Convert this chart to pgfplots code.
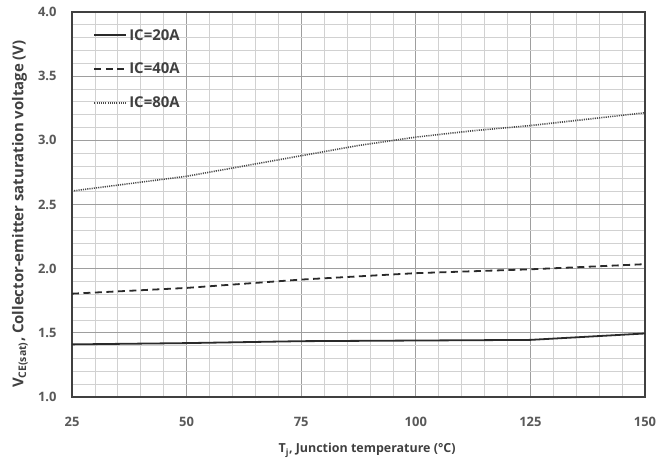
\documentclass[border=0pt]{standalone}
\usepackage{fontspec}
\setmainfont{Open Sans}
\usepackage{pgfplots}
\pgfplotsset{compat=1.18}
\definecolor{txt}{HTML}{595959}
\definecolor{lab}{HTML}{404040}
\definecolor{ln}{HTML}{2a2a2a}
\begin{document}
\begin{tikzpicture}
\useasboundingbox (0,0) rectangle (667bp,459bp);
\begin{axis}[
  at={(72bp,62bp)}, anchor=south west,
  scale only axis, width=573bp, height=385bp,
  xmin=25, xmax=150, ymin=1, ymax=4,
  xtick={25,50,...,150}, ytick={1,1.5,...,4},
  minor x tick num=4, minor y tick num=4,
  grid=both,
  major grid style={draw=black!38, line width=0.8bp},
  minor grid style={draw=black!18, line width=0.7bp},
  tick style={draw=none},
  axis line style={draw=lab, line width=1.4bp},
  /pgf/number format/assume math mode=true,
  yticklabel style={/pgf/number format/fixed, /pgf/number format/fixed zerofill, /pgf/number format/precision=1},
  ticklabel style={font=\fontsize{13}{15}\selectfont\bfseries, text=txt},
  xticklabel style={yshift=-17bp},
  yticklabel style={xshift=-12bp},
  xlabel={T\textsubscript{j}, Junction temperature (°C)},
  ylabel={V\textsubscript{CE(sat)}, Collector-emitter saturation voltage (V)},
  xlabel style={font=\fontsize{12.5}{15}\selectfont\bfseries, text=lab,
    at={(axis description cs:0.515,-0.138)}, anchor=center},
  ylabel style={font=\fontsize{15}{17}\selectfont\bfseries, text=lab,
    at={(axis description cs:-0.091,0.475)}, anchor=center, rotate=0},
  legend style={draw=none, fill=none, at={(0.037,0.966)}, anchor=north west,
    font=\fontsize{15}{17}\selectfont\bfseries, text=lab,
    row sep=17.5bp, inner xsep=0pt},
  legend cell align=left,
  legend image code/.code={\draw[#1, line width=1.9bp] (0bp,0bp) -- (32bp,0bp);},
]
\addplot[ln, line width=1.8bp] coordinates {
 (25,1.41) (50,1.42) (75,1.435) (100,1.44) (125,1.445) (137.5,1.47) (150,1.495)};
\addlegendentry{IC=20A}
\addplot[ln, line width=1.8bp, dash pattern=on 7bp off 4.5bp] coordinates {
 (25,1.805) (50,1.85) (75,1.915) (100,1.965) (125,1.995) (150,2.035)};
\addlegendentry{IC=40A}
\addplot[ln!85, line width=1.6bp, dash pattern=on 1.1bp off 1.1bp] coordinates {
 (25,2.605) (50,2.72) (75,2.88) (87.5,2.96) (100,3.025) (112.5,3.075) (125,3.115) (150,3.215)};
\addlegendentry{IC=80A}
\end{axis}
\end{tikzpicture}
\end{document}
